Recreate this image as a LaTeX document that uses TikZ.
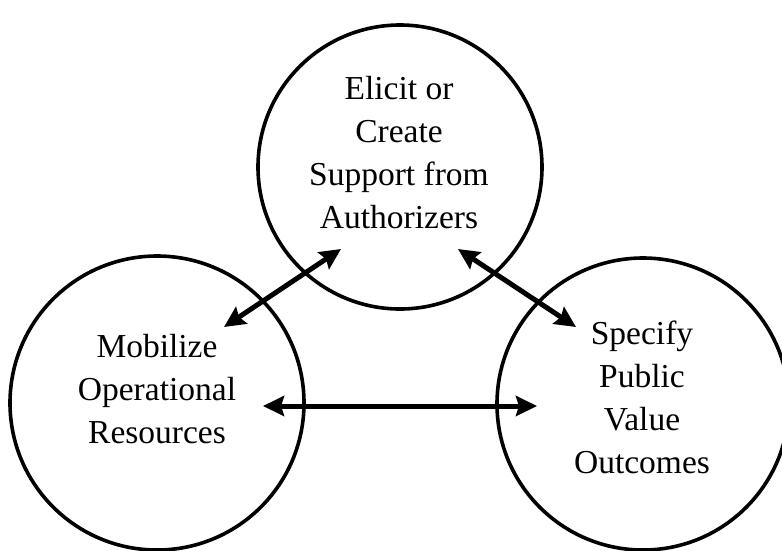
\documentclass[tikz,border=0pt]{standalone}
\usepackage{fontspec}
\setmainfont{Liberation Serif}
\usetikzlibrary{arrows.meta}
\begin{document}
\begin{tikzpicture}[x=1pt,y=-1pt,
  ring/.style={draw=black, line width=3.6pt, circle, minimum size=#1, inner sep=0pt},
  label/.style={align=center, font=\fontsize{33.5}{43}\selectfont, inner sep=0pt},
  link/.style={line width=5pt, {Stealth[length=21pt,width=20pt,inset=3pt]}-{Stealth[length=21pt,width=20pt,inset=3pt]}}]
\useasboundingbox (0,0) rectangle (782,550);
\node[ring=284pt] (top) at (400,167) {};
\node[ring=294pt] (left) at (157,403) {};
\node[ring=292pt] (right) at (643,404) {};
\node[label] (ttop) at (399,153) {Elicit or\\Create\\Support from\\Authorizers};
\node[label] (tleft) at (157,389) {Mobilize\\Operational\\Resources};
\node[label] (tright) at (642,397) {Specify\\Public\\Value\\Outcomes};
\coordinate (a1) at (224,327);
\coordinate (a2) at (341,249);
\coordinate (b1) at (458,249);
\coordinate (b2) at (576,327);
\coordinate (c1) at (263,406);
\coordinate (c2) at (537,406);
\draw[link] (a1) -- (a2);
\draw[link] (b1) -- (b2);
\draw[link] (c1) -- (c2);
\end{tikzpicture}
\end{document}
